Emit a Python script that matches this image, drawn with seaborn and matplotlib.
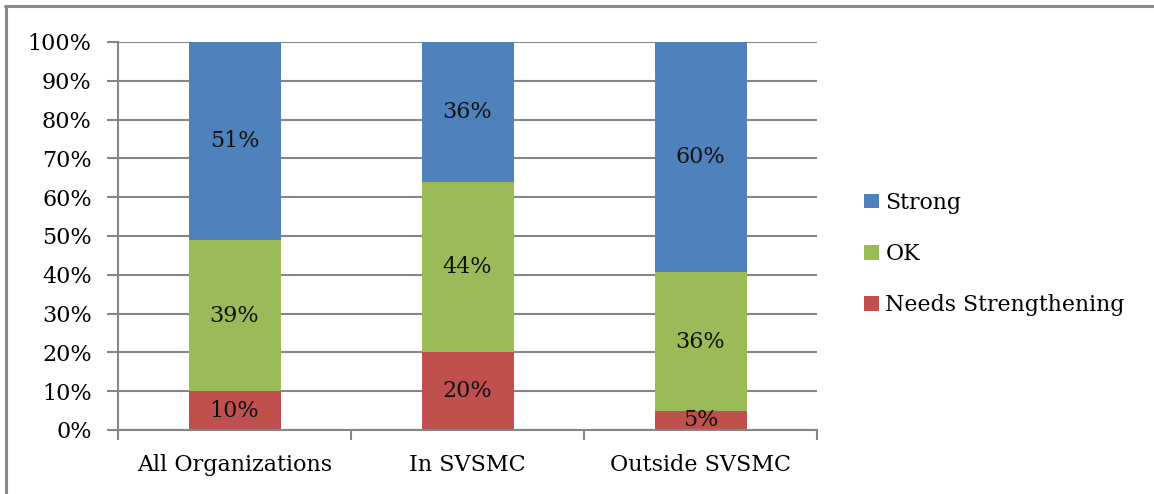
import matplotlib
matplotlib.use("Agg")
import matplotlib.pyplot as plt
import seaborn as sns
import numpy as np
import pandas as pd
from matplotlib.lines import Line2D
from matplotlib.patches import Patch

categories = ["All Organizations", "In SVSMC", "Outside SVSMC"]
needs = [10, 20, 5]
ok = [39, 44, 36]
strong = [51, 36, 60]
series_names = ["Strong", "OK", "Needs Strengthening"]
colors = {"Strong": "#4F81BD", "OK": "#9BBB59", "Needs Strengthening": "#C0504D"}
yticks = [0, 10, 20, 30, 40, 50, 60, 70, 80, 90, 100]

sns.set_theme(style="white")
plt.rcParams['font.family'] = ['DejaVu Serif']
plt.rcParams['text.color'] = '#000000'
plt.rcParams['xtick.color'] = '#000000'
plt.rcParams['ytick.color'] = '#000000'

n = np.array(needs, float)
o = np.array(ok, float)
s = np.array(strong, float)
tot = n + o + s
n_p, o_p, s_p = n / tot * 100, o / tot * 100, s / tot * 100

df = pd.DataFrame({"cat": categories,
                   "top": n_p + o_p + s_p,
                   "mid": n_p + o_p,
                   "low": n_p})

fig = plt.figure(figsize=(11.54, 4.94), dpi=100)
ax = fig.add_axes([0.1023, 0.1296, 0.708 - 0.1023, 0.915 - 0.1296])

grid_c = "#868686"
for yv in yticks:
    ax.axhline(yv, color=grid_c, lw=1.5, zorder=0)

sns.barplot(data=df, x="cat", y="top", color=colors["Strong"], width=0.395,
            saturation=1, ax=ax, zorder=2, linewidth=0)
sns.barplot(data=df, x="cat", y="mid", color=colors["OK"], width=0.395,
            saturation=1, ax=ax, zorder=3, linewidth=0)
sns.barplot(data=df, x="cat", y="low", color=colors["Needs Strengthening"], width=0.395,
            saturation=1, ax=ax, zorder=4, linewidth=0)

fs = 16
for i in range(len(categories)):
    segs = [(0, n_p[i], needs[i]), (n_p[i], o_p[i], ok[i]), (n_p[i] + o_p[i], s_p[i], strong[i])]
    for b, h, v in segs:
        ax.text(i, b + h / 2, f"{v}%", ha="center", va="center", fontsize=fs,
                color="#111111", zorder=6)

ax.set_xlim(-0.5, 2.5)
ax.set_ylim(0, 100)
ax.set_yticks(yticks)
ax.set_yticklabels([f"{v}%" for v in yticks], fontsize=fs)
ax.set_xticks(range(len(categories)))
ax.set_xticklabels(categories, fontsize=fs)
ax.set_xticks([-0.5, 0.5, 1.5, 2.5], minor=True)
ax.tick_params(axis="x", which="major", length=0, pad=17)
ax.tick_params(axis="x", which="minor", length=7, width=1.5, color=grid_c, direction="out", bottom=True)
ax.tick_params(axis="y", length=8, width=1.5, color=grid_c, direction="out", pad=11, left=True)
ax.set_xlabel("")
ax.set_ylabel("")
for side in ["top", "right"]:
    ax.spines[side].set_visible(False)
for side in ["left", "bottom"]:
    ax.spines[side].set_color(grid_c)
    ax.spines[side].set_linewidth(1.5)
    ax.spines[side].set_zorder(5)

handles = [Patch(facecolor=colors[k], edgecolor="none") for k in series_names]
fig.legend(handles, series_names, loc="center left", bbox_to_anchor=(0.732, 0.486),
           frameon=False, fontsize=15.8, handlelength=0.65, handleheight=0.65,
           handletextpad=0.3, labelspacing=1.33)

fig.add_artist(Line2D([5 / 1154, 1], [1 - 6 / 494, 1 - 6 / 494], transform=fig.transFigure,
                      color="#888888", lw=2.2))
fig.add_artist(Line2D([6 / 1154, 6 / 1154], [0, 1 - 6 / 494], transform=fig.transFigure,
                      color="#888888", lw=2.2))

fig.savefig("out.png", dpi=100)
